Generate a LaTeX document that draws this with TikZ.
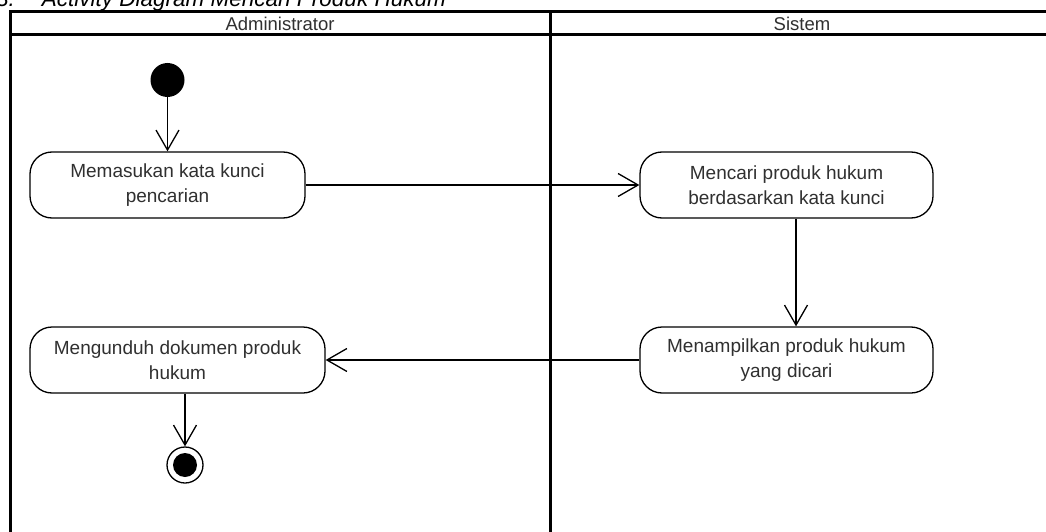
\documentclass[tikz,border=0pt]{standalone}
\usepackage{fontspec}
\setmainfont{Liberation Sans}
\usetikzlibrary{arrows.meta}
\definecolor{txt}{HTML}{303030}
\begin{document}
\begin{tikzpicture}[x=1pt,y=-1pt,
  frame/.style={line width=3pt,black},
  action/.style={draw,line width=1.3pt,rounded corners=22pt,minimum height=66pt,
    align=center,text=txt,inner sep=0pt,
    font=\fontsize{19}{25.5}\selectfont},
  lane/.style={text=txt,font=\fontsize{18.5}{20}\selectfont,inner sep=0pt},
  flow/.style={line width=1.3pt,-{Straight Barb[length=20pt,width=23pt,line width=1.3pt]}}]
\useasboundingbox (0,0) rectangle (1046,532);
\clip (0,0) rectangle (1046,532);
\fill[white] (0,0) rectangle (1046,532);

% caption above the partition frame
\node[anchor=base west,inner sep=0pt,font=\fontsize{22.5}{27}\selectfont\itshape] (cap)
  at (-4,7) {3.\hspace{27pt}Activity Diagram Mencari Produk Hukum};

% swimlane frame
\draw[frame] (1060,12) -- (10,12) -- (10,545);
\draw[frame] (10,35) -- (1060,35);
\draw[frame] (550,12) -- (550,545);
\node[lane] (laneA) at (280,24) {Administrator};
\node[lane] (laneS) at (802,24) {Sistem};

% initial and final nodes
\node[circle,fill=black,minimum size=34pt,inner sep=0pt] (start) at (167.5,80) {};
\node[circle,draw,line width=1.3pt,minimum size=36pt,inner sep=0pt] (end) at (185,465) {};
\fill (end.center) circle (12pt);

% actions
\node[action,minimum width=275pt] (a1) at (167.5,185) {Memasukan kata kunci\\pencarian};
\node[action,minimum width=293pt] (a2) at (786.5,185) {Mencari produk hukum\\berdasarkan kata kunci};
\node[action,minimum width=293pt] (a3) at (786.5,360) {Menampilkan produk hukum\\yang dicari};
\node[action,minimum width=295pt] (a4) at (177.5,360) {Mengunduh dokumen produk\\hukum};

% control flows
\draw[flow] (start) -- (a1.north);
\draw[flow] (a1.east) -- (a2.west);
\draw[flow] ([xshift=9.5pt]a2.south) -- ([xshift=9.5pt]a3.north);
\draw[flow] (a3.west) -- (a4.east);
\draw[flow] ([xshift=7.5pt]a4.south) -- (end.north);
\end{tikzpicture}
\end{document}
